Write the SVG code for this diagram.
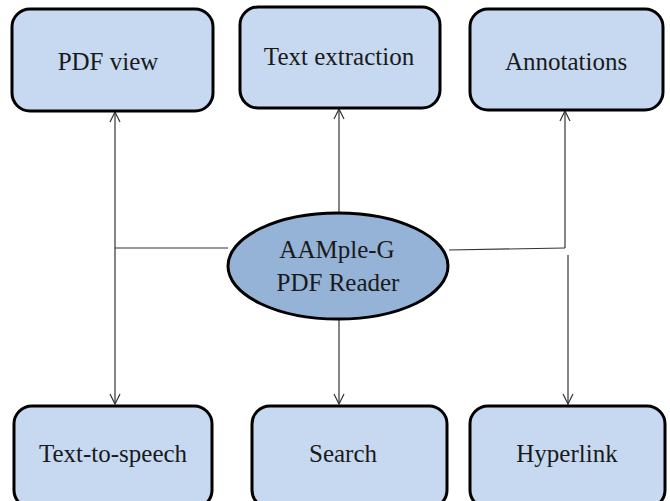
<svg xmlns="http://www.w3.org/2000/svg" width="670" height="501" viewBox="0 0 670 501">
<style>
.box{fill:#C6D9F1;stroke:#000;stroke-width:3}
.ell{fill:#95B3D7;stroke:#000;stroke-width:3}
.t{font-family:"Liberation Serif","DejaVu Serif",serif;font-size:25px;fill:#1a1a1a;text-anchor:middle}
.c{stroke:#333;stroke-width:1.2;fill:none}
</style>
<defs>
<marker id="ah" viewBox="0 0 12 12" refX="11" refY="6" markerWidth="12" markerHeight="12" markerUnits="userSpaceOnUse" orient="auto">
<path d="M1,1 L11,6 L1,11" fill="none" stroke="#333" stroke-width="1.2"/>
</marker>
</defs>
<g id="connectors">
<line class="c" x1="115" y1="248" x2="228" y2="248"/>
<line class="c" x1="115" y1="248" x2="115" y2="112" marker-end="url(#ah)"/>
<line class="c" x1="115" y1="248" x2="115" y2="404" marker-end="url(#ah)"/>
<line class="c" x1="339" y1="213" x2="339" y2="109" marker-end="url(#ah)"/>
<line class="c" x1="339" y1="318" x2="339" y2="404" marker-end="url(#ah)"/>
<line class="c" x1="449" y1="250" x2="565" y2="248"/>
<line class="c" x1="565" y1="248" x2="565" y2="111" marker-end="url(#ah)"/>
<line class="c" x1="568" y1="255" x2="568" y2="404" marker-end="url(#ah)"/>
</g>
<g id="pdfview"><rect class="box" x="12" y="9" width="201" height="102" rx="18"/><text class="t" x="108" y="70">PDF view</text></g>
<g id="textextraction"><rect class="box" x="240" y="7" width="200" height="101" rx="18"/><text class="t" x="339" y="65">Text extraction</text></g>
<g id="annotations"><rect class="box" x="470" y="9" width="193" height="101" rx="18"/><text class="t" x="566" y="70">Annotations</text></g>
<g id="reader"><ellipse class="ell" cx="338" cy="266" rx="110" ry="53"/><text class="t" x="337" y="258">AAMple-G</text><text class="t" x="338" y="291">PDF Reader</text></g>
<g id="tts"><rect class="box" x="14" y="406" width="198" height="102" rx="18"/><text class="t" x="113" y="462">Text-to-speech</text></g>
<g id="search"><rect class="box" x="252" y="406" width="195" height="102" rx="18"/><text class="t" x="343" y="462">Search</text></g>
<g id="hyperlink"><rect class="box" x="470" y="406" width="195" height="102" rx="18"/><text class="t" x="567" y="462">Hyperlink</text></g>
</svg>
